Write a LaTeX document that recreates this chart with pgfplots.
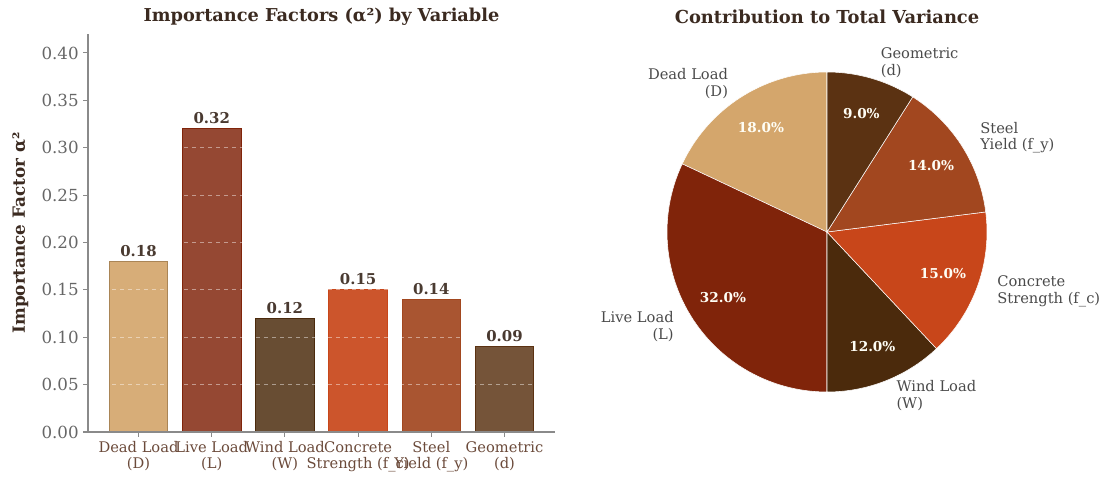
\documentclass[border=0pt]{standalone}
\usepackage{pgfplots}
\pgfplotsset{compat=1.18}
\usepackage{fontspec}
\setmainfont{DejaVu Serif}
\definecolor{cDL}{HTML}{D4A66C}
\definecolor{cLL}{HTML}{80240A}
\definecolor{cWL}{HTML}{4B2A0C}
\definecolor{cCS}{HTML}{C8461A}
\definecolor{cSY}{HTML}{A2471F}
\definecolor{cGM}{HTML}{5B3212}
\definecolor{titlec}{HTML}{3B2A20}
\definecolor{tickc}{HTML}{666666}
\definecolor{xtickc}{HTML}{6B4A3A}
\definecolor{spinec}{HTML}{8A8A8A}
\definecolor{piel}{HTML}{4A4A4A}
\begin{document}
\begin{tikzpicture}
\useasboundingbox (0,0) rectangle (828pt,359.25pt);
% ---------------- bar chart ----------------
\begin{axis}[
  at={(66pt,35.25pt)}, anchor=south west,
  scale only axis, width=350.25pt, height=298.5pt,
  xmin=-0.69, xmax=5.69, ymin=0, ymax=0.42,
  axis x line*=bottom, axis y line*=left,
  axis line style={spinec, line width=0.9pt},
  every tick/.style={spinec, line width=0.8pt},
  tick align=outside, major tick length=3.5pt,
  ytick={0,0.05,0.10,0.15,0.20,0.25,0.30,0.35,0.40},
  yticklabel style={font=\fontsize{12.5}{14}\selectfont, text=tickc,
    /pgf/number format/fixed, /pgf/number format/fixed zerofill,
    /pgf/number format/precision=2},
  /pgf/number format/assume math mode=true,
  xtick={0,1,2,3,4,5},
  xticklabels={{Dead Load\\(D)},{Live Load\\(L)},{Wind Load\\(W)},{Concrete\\Strength (f\_c)},{Steel\\Yield (f\_y)},{Geometric\\(d)}},
  xticklabel style={font=\fontsize{11}{12}\selectfont, text=xtickc, align=center},
  ylabel={\textbf{Importance Factor α²}},
  ylabel style={font=\fontsize{12.6}{14}\selectfont, text=titlec, yshift=3pt},
  ymajorgrids, grid style={white, opacity=0.45, dashed, line width=0.6pt},
  axis on top,
  ybar, bar width=0.8,
  nodes near coords,
  nodes near coords style={font=\bfseries\fontsize{11.2}{12}\selectfont, text=titlec,
    /pgf/number format/fixed, /pgf/number format/fixed zerofill,
    /pgf/number format/precision=2},
  clip=false,
]
\addplot[bar shift=0pt, fill=cDL, fill opacity=0.92, draw=cDL!80!black, line width=0.6pt] coordinates {(0,0.18)};
\addplot[bar shift=0pt, fill=cLL!90!white, fill opacity=0.93, draw=cLL, line width=0.6pt] coordinates {(1,0.32)};
\addplot[bar shift=0pt, fill=cWL!90!white, fill opacity=0.93, draw=cWL, line width=0.6pt] coordinates {(2,0.12)};
\addplot[bar shift=0pt, fill=cCS, fill opacity=0.92, draw=cCS, line width=0.6pt] coordinates {(3,0.15)};
\addplot[bar shift=0pt, fill=cSY, fill opacity=0.92, draw=cSY, line width=0.6pt] coordinates {(4,0.14)};
\addplot[bar shift=0pt, fill=cGM!90!white, fill opacity=0.93, draw=cGM, line width=0.6pt] coordinates {(5,0.09)};
\node[font=\bfseries\fontsize{13.3}{15}\selectfont, text=titlec] at (rel axis cs:0.5,1) [yshift=12.75pt] {Importance Factors (α²) by Variable};
\end{axis}
% ---------------- pie chart ----------------
\begin{axis}[
  at={(620.25pt,185.25pt)}, anchor=center,
  scale only axis, width=324pt, height=324pt,
  xmin=-1.35, xmax=1.35, ymin=-1.35, ymax=1.35,
  hide axis, clip=false,
]
\addplot[fill=cDL, draw=white, line width=0.4pt, domain=90:154.8, samples=40] ({cos(x)},{sin(x)}) -- (axis cs:0,0) -- cycle;
\addplot[fill=cLL, draw=white, line width=0.4pt, domain=154.8:270, samples=60] ({cos(x)},{sin(x)}) -- (axis cs:0,0) -- cycle;
\addplot[fill=cWL, draw=white, line width=0.4pt, domain=270:313.2, samples=30] ({cos(x)},{sin(x)}) -- (axis cs:0,0) -- cycle;
\addplot[fill=cCS, draw=white, line width=0.4pt, domain=313.2:367.2, samples=30] ({cos(x)},{sin(x)}) -- (axis cs:0,0) -- cycle;
\addplot[fill=cSY, draw=white, line width=0.4pt, domain=367.2:417.6, samples=30] ({cos(x)},{sin(x)}) -- (axis cs:0,0) -- cycle;
\addplot[fill=cGM, draw=white, line width=0.4pt, domain=417.6:450, samples=30] ({cos(x)},{sin(x)}) -- (axis cs:0,0) -- cycle;
% category labels
\begin{scope}[every node/.style={font=\fontsize{11}{12.5}\selectfont, text=piel}]
\node[anchor=east, align=right] at (axis cs:-0.5895,0.9287) {Dead Load\\(D)};
\node[anchor=east, align=right] at (axis cs:-0.9287,-0.5894) {Live Load\\(L)};
\node[anchor=west, align=left] at (axis cs:0.4049,-1.0228) {Wind Load\\(W)};
\node[anchor=west, align=left] at (axis cs:1.0350,-0.3726) {Concrete\\Strength (f\_c)};
\node[anchor=west, align=left] at (axis cs:0.9287,0.5894) {Steel\\Yield (f\_y)};
\node[anchor=west, align=left] at (axis cs:0.3069,1.0563) {Geometric\\(d)};
\end{scope}
% percentages
\begin{scope}[every node/.style={font=\bfseries\fontsize{10.2}{12}\selectfont, text=white!96!yellow}]
\node at (axis cs:-0.4126,0.6501) {18.0\%};
\node at (axis cs:-0.6501,-0.4126) {32.0\%};
\node at (axis cs:0.2834,-0.7159) {12.0\%};
\node at (axis cs:0.7245,-0.2608) {15.0\%};
\node at (axis cs:0.6501,0.4126) {14.0\%};
\node at (axis cs:0.2148,0.7394) {9.0\%};
\end{scope}
\node[font=\bfseries\fontsize{13.4}{15}\selectfont, text=titlec] at (axis cs:0,1.344) {Contribution to Total Variance};
\end{axis}
\end{tikzpicture}
\end{document}
